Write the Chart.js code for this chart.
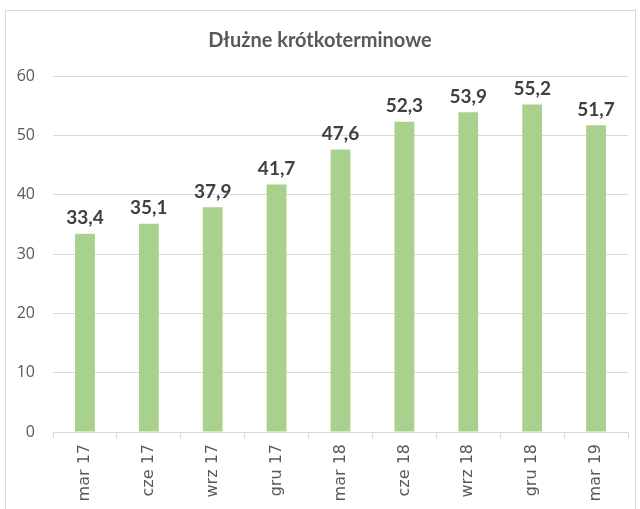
<!DOCTYPE html>
<html>
<head>
<meta charset="utf-8">
<script src="https://cdn.jsdelivr.net/npm/chart.js@4"></script>
<style>
    html, body { margin: 0; padding: 0; background: #fff; overflow: hidden; }
    #wrap { position: relative; width: 640px; height: 530px; }
</style>
</head>
<body>
<div id="wrap"><canvas id="debtChart"></canvas></div>
<script>
// Chart data
const categories = ['mar 17', 'cze 17', 'wrz 17', 'gru 17', 'mar 18', 'cze 18', 'wrz 18', 'gru 18', 'mar 19'];
const values = [33.4, 35.1, 37.9, 41.7, 47.6, 52.3, 53.9, 55.2, 51.7];
const yTicks = [0, 10, 20, 30, 40, 50, 60];
const chartTitle = 'Dłużne krótkoterminowe';

// Frame and title drawn by hand (Excel style)
const framePlugin = {
    id: 'frame',
    beforeDraw(chart) {
        const ctx = chart.ctx;
        ctx.save();
        ctx.strokeStyle = '#d9d9d9';
        ctx.lineWidth = 1;
        ctx.strokeRect(5.5, 10.5, 630, 540);
        ctx.fillStyle = '#595959';
        ctx.font = 'bold 20px Lato';
        ctx.textAlign = 'center';
        ctx.textBaseline = 'middle';
        ctx.fillText(chartTitle, 320, 41);
        ctx.restore();
    }
};

// Value labels above bars
const valueLabels = {
    id: 'valueLabels',
    afterDatasetsDraw(chart) {
        const ctx = chart.ctx;
        const meta = chart.getDatasetMeta(0);
        ctx.save();
        ctx.fillStyle = '#404040';
        ctx.font = 'bold 19px Lato';
        ctx.textAlign = 'center';
        ctx.textBaseline = 'bottom';
        meta.data.forEach((bar, i) => {
            ctx.fillText(values[i].toFixed(1).replace('.', ','), bar.x, bar.y - 6);
        });
        ctx.restore();
    }
};

const ctx = document.getElementById('debtChart').getContext('2d');
new Chart(ctx, {
    type: 'bar',
    data: {
        labels: categories,
        datasets: [{
            data: values,
            backgroundColor: '#a9d18e',
            categoryPercentage: 1,
            barPercentage: 0.31
        }]
    },
    options: {
        responsive: true,
        maintainAspectRatio: false,
        animation: false,
        layout: { padding: { top: 76, right: 12, left: 5, bottom: 0 } },
        plugins: {
            legend: { display: false },
            tooltip: { enabled: false },
            title: { display: false }
        },
        scales: {
            x: {
                grid: { drawOnChartArea: false, drawTicks: true, tickLength: 6, color: '#d9d9d9', offset: true },
                border: { color: '#d9d9d9' },
                ticks: {
                    color: '#595959',
                    font: { family: 'DejaVu Sans', size: 16 },
                    minRotation: 90,
                    maxRotation: 90,
                    padding: 6
                },
                afterFit(scale) { scale.height = 98; }
            },
            y: {
                min: 0,
                max: 60,
                afterBuildTicks(scale) { scale.ticks = yTicks.map(v => ({ value: v })); },
                grid: { color: '#d9d9d9', drawTicks: false },
                border: { display: false },
                ticks: {
                    color: '#595959',
                    font: { family: 'Open Sans', size: 16 },
                    padding: 18
                },
                afterFit(scale) { scale.width = 48; }
            }
        }
    },
    plugins: [framePlugin, valueLabels]
});
</script>
</body>
</html>
